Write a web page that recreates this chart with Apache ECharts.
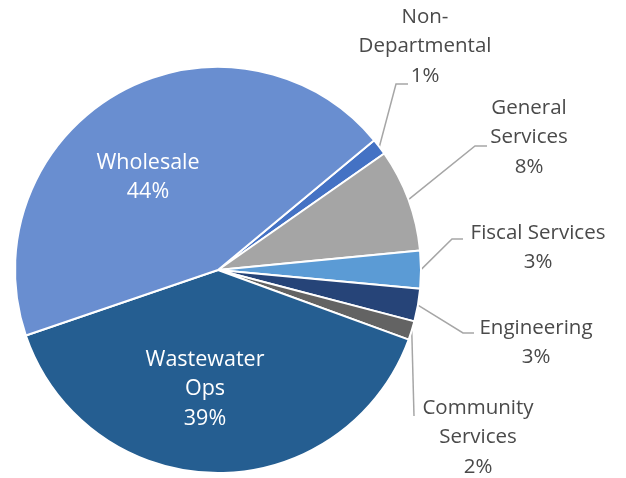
<!DOCTYPE html>
<html><head><meta charset="utf-8">
<script src="https://cdn.jsdelivr.net/npm/echarts@6/dist/echarts.min.js"></script>
<style>html,body{margin:0;padding:0;background:#fff}#c{width:626px;height:478px}</style>
</head><body><div id="c"></div>
<script>
// Data (clockwise from the Wholesale / Non-Departmental boundary)
const categories = ['Non-\nDepartmental', 'General\nServices', 'Fiscal Services', 'Engineering', 'Community\nServices', 'Wastewater\nOps', 'Wholesale'];
const values = [1.3, 8.2, 3.0, 2.6, 1.5, 39.2, 44.2];

// Styles / layout
const colors = ['#4472C4', '#A5A5A5', '#5B9BD5', '#264478', '#636363', '#255E91', '#698ED0'];
const inside = [false, false, false, false, false, true, true];
// label block: centre x, top y
const labelAnchor = [[425, 2], [529, 93], [538, 218], [536, 313], [478, 393], [205, 345], [148, 148]];
// leader line: bend x, bend y, end x (horizontal final segment)
const guide = [[396, 84, 408], [475, 146, 487], [452, 239, 463], [463, 333, 474], [414, 416, 414], null, null];

const FONT = 'Open Sans';
const chart = echarts.init(document.getElementById('c'), null, {renderer: 'canvas'});

const data = categories.map((name, i) => ({
  name: name,
  value: values[i],
  itemStyle: {color: colors[i]},
  label: {position: inside[i] ? 'inside' : 'outside'},
  labelLine: {show: !inside[i], length: 10, length2: 10}
}));

chart.setOption({
  backgroundColor: '#ffffff',
  animation: false,
  series: [{
    type: 'pie',
    center: [218, 270],
    radius: 203,
    startAngle: 39.7,
    clockwise: true,
    avoidLabelOverlap: false,
    data: data,
    itemStyle: {borderColor: '#ffffff', borderWidth: 2},
    label: {
      show: true,
      formatter: function (p) {
        const tag = inside[p.dataIndex] ? 'w' : 'c';
        const lines = p.name.split('\n');
        lines.push(Math.round(p.percent) + '%');
        return lines.map(l => '{' + tag + '|' + l + '}').join('\n');
      },
      rich: {
        c: {align: 'center', fontFamily: FONT, fontSize: 20.5, lineHeight: 29.5, color: '#4a4a4a'},
        w: {align: 'center', fontFamily: FONT, fontSize: 21.5, lineHeight: 29.5, color: '#ffffff'}
      }
    },
    labelLine: {lineStyle: {color: '#A6A6A6', width: 1.5}},
    labelLayout: function (p) {
      const a = labelAnchor[p.dataIndex];
      const out = {x: a[0], y: a[1], align: 'center', verticalAlign: 'top'};
      const g = guide[p.dataIndex];
      if (g && p.labelLinePoints) {
        const start = p.labelLinePoints[0];
        out.labelLinePoints = [[start[0], start[1]], [g[0], g[1]], [g[2], g[1]]];
      }
      return out;
    }
  }]
});
</script></body></html>
